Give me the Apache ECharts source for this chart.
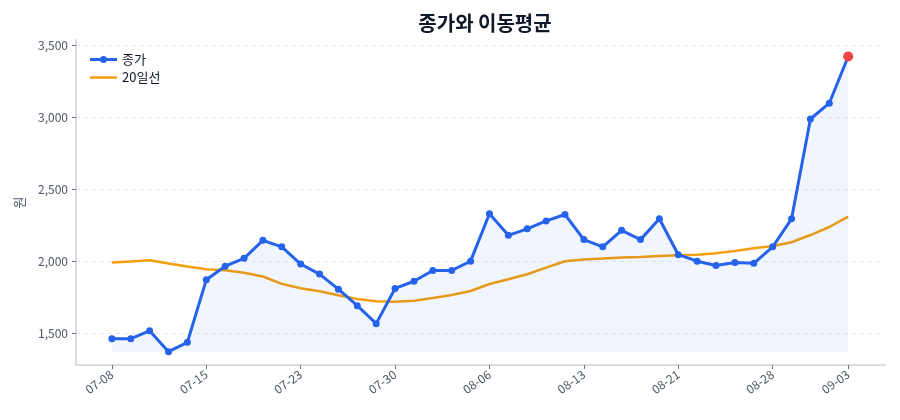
<!DOCTYPE html>
<html>
<head>
<meta charset="utf-8">
<script src="https://cdn.jsdelivr.net/npm/echarts@6/dist/echarts.min.js"></script>
<style>
  html, body { margin: 0; padding: 0; background: #fff; }
  #main { width: 900px; height: 420px; }
</style>
</head>
<body>
<div id="main"></div>
<script>
// closing price, one per trading day
const closePrices = [
  1460, 1460, 1515, 1370, 1435, 1870, 1965, 2020, 2145, 2100,
  1980, 1910, 1805, 1690, 1565, 1810, 1860, 1935, 1935, 2000,
  2330, 2180, 2225, 2280, 2325, 2150, 2100, 2215, 2150, 2295,
  2045, 2000, 1970, 1990, 1985, 2100, 2295, 2990, 3100, 3425
];
// 20-day moving average
const ma20 = [
  1990, 1998, 2006, 1984, 1963, 1944, 1936, 1920, 1893, 1842,
  1811, 1790, 1763, 1737, 1721, 1718, 1725, 1743, 1765, 1792,
  1841, 1874, 1909, 1955, 1999, 2012, 2018, 2025, 2029, 2036,
  2041, 2045, 2055, 2071, 2090, 2106, 2132, 2182, 2238, 2310
];
// x tick labels and the trading-day index they sit on
const dayLabels = ['07-08','07-15','07-23','07-30','08-06','08-13','08-21','08-28','09-03'];
const labelPos = [0, 5, 10, 15, 20, 25, 30, 35, 39];
const yTicks = [1500, 2000, 2500, 3000, 3500];

const minClose = Math.min(...closePrices);
const last = closePrices.length - 1;

const closeData = closePrices.map((v, i) => i === last
  ? { value: [i, v], symbolSize: 10, itemStyle: { color: '#ef4444' } }
  : [i, v]);
const maData = ma20.map((v, i) => [i, v]);

const font = '"Noto Sans CJK KR", "Noto Sans", sans-serif';
// legend glyphs: line with dot, plain line
const iconLineDot = 'path://M0,5.75 L27,5.75 L27,8.75 L0,8.75 Z M10,7.25 a3.5,3.5 0 1,1 7,0 a3.5,3.5 0 1,1 -7,0 Z';
const iconLine = 'path://M0,6 L27,6 L27,8.5 L0,8.5 Z';

const chart = echarts.init(document.getElementById('main'));
chart.setOption({
  backgroundColor: '#ffffff',
  animation: false,
  textStyle: { fontFamily: font },
  title: {
    text: '종가와 이동평균',
    left: 480,
    top: 8,
    textAlign: 'center',
    textStyle: { fontSize: 20, fontWeight: 'bold', color: '#111827', fontFamily: font }
  },
  legend: {
    orient: 'vertical',
    left: 85,
    top: 48,
    itemWidth: 27,
    itemHeight: 14,
    itemGap: 5,
    textStyle: { fontSize: 13, color: '#111827' },
    data: [
      { name: '종가', icon: iconLineDot },
      { name: '20일선', icon: iconLine }
    ]
  },
  grid: { left: 76, right: 15, top: 40, bottom: 55 },
  xAxis: {
    type: 'value',
    min: -1.9,
    max: 40.95,
    splitLine: { show: false },
    axisLine: { onZero: false, lineStyle: { color: '#d9dde3', width: 2 } },
    axisTick: { show: true, customValues: labelPos, lineStyle: { color: '#6b7280' }, length: 4 },
    axisLabel: {
      customValues: labelPos,
      rotate: 35,
      color: '#4b5563',
      fontSize: 12,
      margin: 8,
      formatter: v => dayLabels[labelPos.indexOf(v)] || ''
    }
  },
  yAxis: {
    type: 'value',
    name: '원',
    nameLocation: 'middle',
    nameGap: 50,
    nameRotate: 90,
    nameTextStyle: { color: '#4b5563', fontSize: 13 },
    min: 1277,
    max: 3540,
    axisLine: { show: true, onZero: false, lineStyle: { color: '#d9dde3', width: 2 } },
    axisTick: { show: true, customValues: yTicks, lineStyle: { color: '#6b7280' }, length: 4 },
    axisLabel: { customValues: yTicks, color: '#4b5563', fontSize: 12, margin: 8 },
    splitLine: { show: true, lineStyle: { color: '#e5e7eb', type: [4, 4] } }
  },
  series: [
    {
      name: '종가',
      type: 'line',
      data: closeData,
      symbol: 'circle',
      symbolSize: 7,
      showSymbol: true,
      lineStyle: { color: '#2563eb', width: 3 },
      itemStyle: { color: '#2563eb' },
      areaStyle: { color: 'rgba(37,99,235,0.09)', origin: minClose },
      z: 3
    },
    {
      name: '20일선',
      type: 'line',
      data: maData,
      symbol: 'none',
      lineStyle: { color: '#f59e0b', width: 2.5 },
      itemStyle: { color: '#f59e0b' },
      z: 2
    }
  ]
});
</script>
</body>
</html>
